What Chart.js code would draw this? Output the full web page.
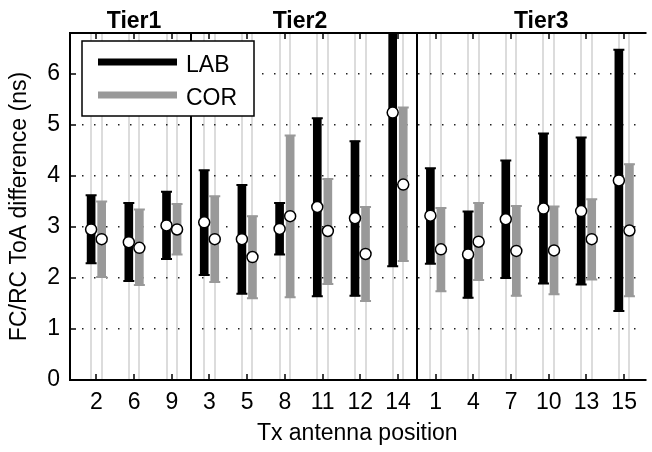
<!DOCTYPE html>
<html>
<head>
<meta charset="utf-8">
<script src="https://cdn.jsdelivr.net/npm/chart.js@4.4.1/dist/chart.umd.min.js"></script>
<style>
  html, body { margin: 0; padding: 0; background: #fff; overflow: hidden; }
  #wrap { width: 652px; height: 452px; }
</style>
</head>
<body>
<div id="wrap"><canvas id="toaChart"></canvas></div>
<script>
// Tx antenna positions, in plot order
const positions = ['2', '6', '9', '3', '5', '8', '11', '12', '14', '1', '4', '7', '10', '13', '15'];
const tierNames = ['Tier1', 'Tier2', 'Tier3'];
const tierSizes = [3, 6, 6];

// LAB: range and centre marker (ns)
const labLow  = [2.29, 1.94, 2.37, 2.06, 1.69, 2.46, 1.64, 1.65, 2.23, 2.28, 1.61, 2.00, 1.89, 1.87, 1.35];
const labHigh = [3.62, 3.47, 3.69, 4.11, 3.82, 3.47, 5.13, 4.68, 7.20, 4.15, 3.30, 4.30, 4.83, 4.75, 6.47];
const labMid  = [2.95, 2.70, 3.03, 3.09, 2.76, 2.96, 3.39, 3.17, 5.24, 3.22, 2.46, 3.15, 3.36, 3.31, 3.91];

// COR: range and centre marker (ns)
const corLow  = [2.02, 1.86, 2.46, 1.92, 1.60, 1.62, 1.88, 1.55, 2.33, 1.74, 1.96, 1.65, 1.68, 1.97, 1.64];
const corHigh = [3.50, 3.34, 3.45, 3.60, 3.21, 4.79, 3.94, 3.39, 5.34, 3.37, 3.47, 3.41, 3.40, 3.54, 4.23];
const corMid  = [2.76, 2.59, 2.95, 2.76, 2.41, 3.21, 2.92, 2.47, 3.83, 2.56, 2.71, 2.53, 2.54, 2.76, 2.93];

const yTicks = [0, 1, 2, 3, 4, 5, 6];

const shift = 0.14;   // LAB left, COR right of each position
const LAB_COL = '#000';
const COR_COL = '#999';

Chart.defaults.font.family = "'Liberation Sans', Arial, sans-serif";
Chart.defaults.font.size = 23;
Chart.defaults.color = '#000';

const pts = (vals, dx) => vals.map((v, i) => ({x: i + dx, y: v}));
const bars = (lo, hi, dx) => lo.map((v, i) => ({x: i + dx, y: [v, hi[i]]}));
const caps = (lo, hi, dx) => pts(lo, dx).concat(pts(hi, dx));

// tier separators and label anchors from the group sizes
const tierBreaks = [];
let run = 0;
tierSizes.forEach((n, k) => { run += n; if (k < tierSizes.length - 1) tierBreaks.push(run - 0.5); });
const tierLabelAt = [1, 5.4, 11.8];

const decor = {
  id: 'decor',
  beforeDatasetsDraw(chart) {
    const {ctx, chartArea: a, scales: {x, y}} = chart;
    ctx.save();
    // light guide lines at every bar
    ctx.strokeStyle = '#dcdcdc';
    ctx.lineWidth = 2;
    positions.forEach((p, i) => {
      [i - shift, i + shift].forEach(v => {
        const px = Math.round(x.getPixelForValue(v));
        ctx.beginPath(); ctx.moveTo(px, a.top); ctx.lineTo(px, a.bottom); ctx.stroke();
      });
    });
    // dotted grid
    ctx.fillStyle = '#222';
    yTicks.filter(v => v > 0).forEach(v => {
      const py = Math.round(y.getPixelForValue(v));
      for (let px = a.left + 12; px < a.right; px += 12) ctx.fillRect(px, py - 1, 1.5, 1.5);
    });
    // tier separators
    ctx.strokeStyle = '#000';
    ctx.lineWidth = 2;
    tierBreaks.forEach(v => {
      const px = Math.round(x.getPixelForValue(v));
      ctx.beginPath(); ctx.moveTo(px, a.top); ctx.lineTo(px, a.bottom); ctx.stroke();
    });
    ctx.restore();
  },
  afterDraw(chart) {
    const {ctx, chartArea: a, scales: {x, y}} = chart;
    ctx.save();
    // frame
    ctx.strokeStyle = '#000';
    ctx.lineWidth = 2;
    ctx.beginPath();
    ctx.moveTo(a.right + 2, a.top); ctx.lineTo(a.left, a.top);
    ctx.lineTo(a.left, a.bottom); ctx.lineTo(a.right + 2, a.bottom);
    ctx.stroke();
    // inward tick marks
    ctx.lineWidth = 1.5;
    positions.forEach((p, i) => {
      const px = Math.round(x.getPixelForValue(i));
      ctx.beginPath();
      ctx.moveTo(px, a.bottom); ctx.lineTo(px, a.bottom - 6);
      ctx.moveTo(px, a.top); ctx.lineTo(px, a.top + 6);
      ctx.stroke();
    });
    yTicks.forEach(v => {
      const py = Math.round(y.getPixelForValue(v));
      ctx.beginPath(); ctx.moveTo(a.left, py); ctx.lineTo(a.left + 6, py); ctx.stroke();
    });
    // tier labels
    ctx.fillStyle = '#000';
    ctx.font = "bold 23px 'Liberation Sans', Arial, sans-serif";
    ctx.textAlign = 'center';
    ctx.textBaseline = 'alphabetic';
    tierNames.forEach((t, k) => ctx.fillText(t, x.getPixelForValue(tierLabelAt[k]), 28));
    // legend
    const bx = 82, by = 41, bw = 172, bh = 75;
    ctx.fillStyle = '#fff';
    ctx.fillRect(bx, by, bw, bh);
    ctx.lineWidth = 1.5;
    ctx.strokeStyle = '#000';
    ctx.strokeRect(bx, by, bw, bh);
    const items = chart.data.datasets.filter(d => d.inLegend);
    ctx.font = "23px 'Liberation Sans', Arial, sans-serif";
    ctx.textAlign = 'left';
    items.forEach((d, k) => {
      const ly = 62 + k * 33;
      ctx.strokeStyle = d.backgroundColor;
      ctx.lineWidth = 7;
      ctx.beginPath(); ctx.moveTo(98, ly); ctx.lineTo(177, ly); ctx.stroke();
      ctx.fillStyle = '#000';
      ctx.fillText(d.label, 186, ly + 10);
    });
    ctx.restore();
  }
};

new Chart(document.getElementById('toaChart'), {
  type: 'bar',
  data: {
    datasets: [
      {type: 'scatter', label: 'LAB mid', data: pts(labMid, -shift), order: 0,
       pointRadius: 5.5, pointBackgroundColor: '#fff', pointBorderColor: '#000', pointBorderWidth: 1.5},
      {type: 'scatter', label: 'COR mid', data: pts(corMid, shift), order: 0,
       pointRadius: 5.5, pointBackgroundColor: '#fff', pointBorderColor: '#000', pointBorderWidth: 1.5},
      {type: 'scatter', label: 'LAB caps', data: caps(labLow, labHigh, -shift), order: 1,
       pointStyle: 'line', pointRadius: 5.5, pointBorderColor: LAB_COL, pointBorderWidth: 2},
      {type: 'scatter', label: 'COR caps', data: caps(corLow, corHigh, shift), order: 1,
       pointStyle: 'line', pointRadius: 5.5, pointBorderColor: COR_COL, pointBorderWidth: 2},
      {label: 'LAB', inLegend: true, data: bars(labLow, labHigh, -shift), order: 2,
       backgroundColor: LAB_COL, barThickness: 8, grouped: false},
      {label: 'COR', inLegend: true, data: bars(corLow, corHigh, shift), order: 2,
       backgroundColor: COR_COL, barThickness: 8, grouped: false}
    ]
  },
  options: {
    responsive: true,
    maintainAspectRatio: false,
    animation: false,
    layout: {padding: {top: 33, right: 0, bottom: 0, left: 0}},
    plugins: {legend: {display: false}, tooltip: {enabled: false}},
    scales: {
      x: {
        type: 'linear',
        offset: false,
        min: -0.7,
        max: 14.54,
        afterBuildTicks: s => { s.ticks = positions.map((p, i) => ({value: i})); },
        afterFit: s => { s.height = 72; },
        grid: {display: false, drawTicks: false},
        border: {display: false},
        ticks: {callback: v => positions[v], padding: 9, maxRotation: 0, autoSkip: false},
        title: {display: true, text: 'Tx antenna position', padding: {top: 0, bottom: 5}}
      },
      y: {
        min: 0,
        max: 6.8,
        afterFit: s => { s.width = 70; },
        afterBuildTicks: s => { s.ticks = yTicks.map(v => ({value: v})); },
        ticks: {padding: 10},
        grid: {display: false, drawTicks: false},
        border: {display: false},
        title: {display: true, text: 'FC/RC ToA difference (ns)', padding: {top: 6, bottom: 0}}
      }
    }
  },
  plugins: [decor]
});
</script>
</body>
</html>
